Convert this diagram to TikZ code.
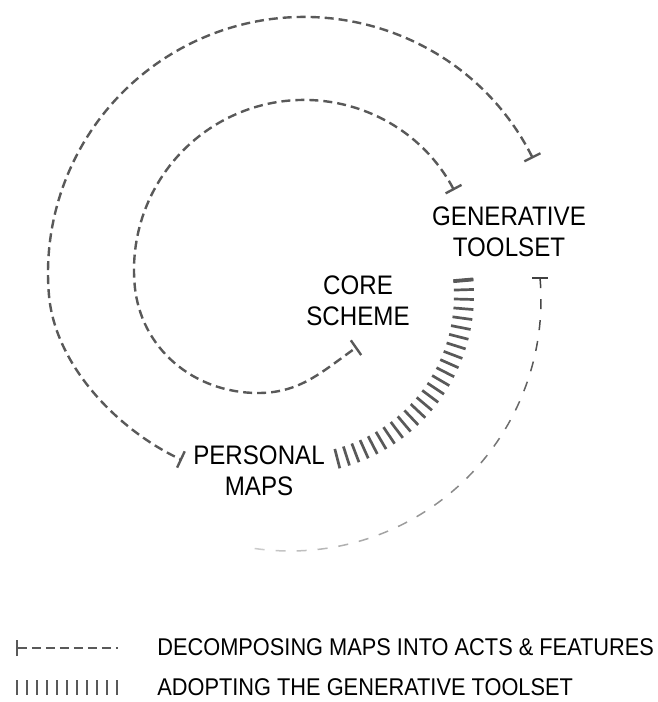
\documentclass[tikz,border=0pt]{standalone}
\usepackage{fontspec}
\setmainfont{Liberation Sans}[FakeStretch=0.9]
\usetikzlibrary{arrows.meta}

\begin{document}
\begin{tikzpicture}[x=0.5pt,y=0.5pt,
	spiral/.style={line width=1.2pt, draw=black!65, dash pattern=on 4.5pt off 2.5pt},
	barends/.style={{Bar[width=9pt]}-{Bar[width=9pt]}},
	stage/.style={align=center, inner sep=0pt, text=black, font=\fontsize{13.4}{15.5}\selectfont},
	keytext/.style={anchor=base west, inner sep=0pt, text=black, font=\fontsize{12.1}{15}\selectfont},
	hatch/.style={line width=1.35pt, draw=black!65},
	fadeline/.style={line width=0.75pt}]
	\useasboundingbox (0,0) rectangle (658,-702);
	%labels
		\node[stage] (toolset) at (509,-232) {GENERATIVE\\TOOLSET};
		\node[stage] (core) at (358,-301) {CORE\\SCHEME};
		\node[stage] (maps) at (259,-471) {PERSONAL\\MAPS};
	%end points of the loops
		\coordinate (outer-start) at ([shift={(304,-273)}]26.6:256);
		\coordinate (outer-end) at (182,-460);
		\coordinate (inner-start) at ([shift={(304,-270)}]28:170);
		\coordinate (inner-low) at (258,-393);
		\coordinate (inner-end) at (357,-347);
		\coordinate (fade-start) at ([shift={(290,-300)}]5:251);
	%outer loop, toolset back to personal maps
		\draw[spiral, barends] (outer-start) arc[start angle=26.6, end angle=185, radius=256]
			to[out=-85, in=155, looseness=0.85] (outer-end);
	%inner loop, toolset down to core scheme
		\draw[spiral, barends] (inner-start) arc[start angle=28, end angle=185, radius=170]
			to[out=-85, in=180] (inner-low) to[out=0, in=215] (inner-end);
	%hatched arc between toolset and personal maps
		\foreach \i [evaluate=\i as \a using 5-\i*3.22] in {0,...,25}
			\draw[hatch] ([shift={(295,-295)}]\a:159) -- ([shift={(295,-295)}]\a:179);
		\draw[hatch, line width=1.9pt] ([shift={(295,-295)}]5:159) -- ([shift={(295,-295)}]5:179);
	%outside arc fading out
		\draw[fadeline, black!75, line width=1pt] (fade-start) ++(-8,0) -- ++(16,0);
		\foreach \i [evaluate=\i as \a using 5-\i*4.8, evaluate=\i as \g using 75-2.6*\i] in {0,...,21}
			\draw[fadeline, black!\g] ([shift={(290,-300)}]\a:251) arc[start angle=\a, end angle=\a-2.3, radius=251];
	%legend
		\coordinate (key-a) at (16,-648);
		\coordinate (key-b) at (118,-648);
		\draw[spiral, {Bar[width=8pt]}-] (key-a) -- (key-b);
		\foreach \i in {0,...,10}
			\draw[hatch] ({17+\i*10},-680) -- ++(0,-15);
		\node[keytext] (key-text-a) at (157,-655) {DECOMPOSING MAPS INTO ACTS \& FEATURES};
		\node[keytext] (key-text-b) at (157,-695) {ADOPTING THE GENERATIVE TOOLSET};
\end{tikzpicture}
\end{document}
